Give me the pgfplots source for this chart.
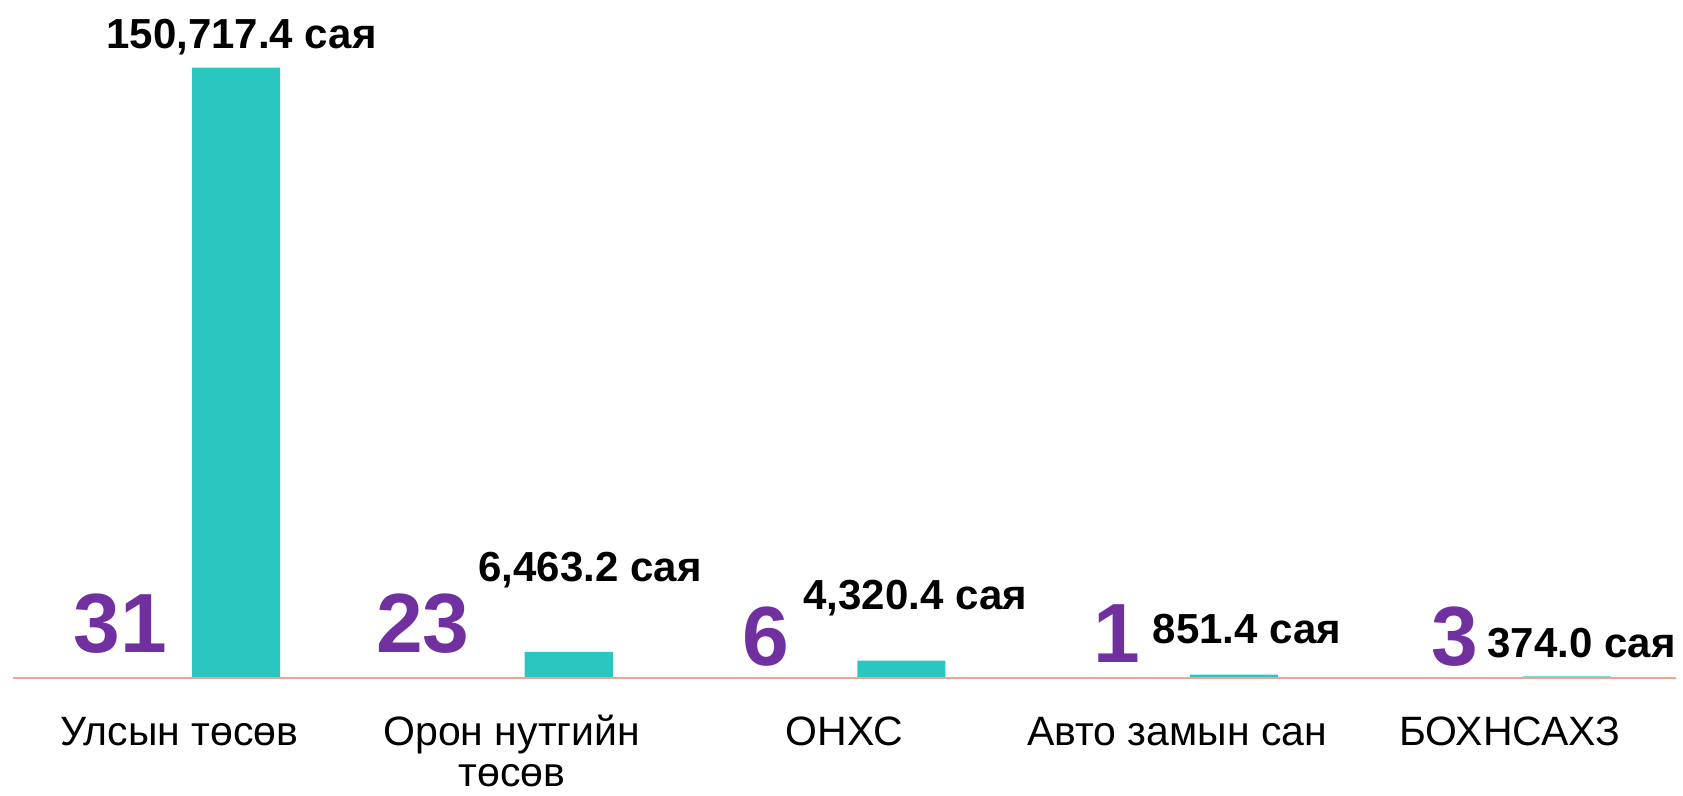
\documentclass[border=0pt]{standalone}
\usepackage{fontspec}
\setmainfont{Liberation Sans}
\usepackage{pgfplots}
\pgfplotsset{compat=1.18}
\definecolor{barteal}{HTML}{29C7BF}
\definecolor{cntpurple}{HTML}{7030A0}
\definecolor{baseln}{HTML}{F2A291}
% two centred lines, baseline on the first one
\newcommand{\twoline}[2]{\vtop{\halign{\hfil##\hfil\cr #1\cr #2\cr}}}

\begin{document}
\begin{tikzpicture}
\begin{axis}[
    scale only axis,
    width=841.5pt, height=339pt,
    xmin=-0.539, xmax=4.521,
    ymin=0, ymax=167410,
    axis line style={draw=none},
    tick style={draw=none},
    ytick=\empty,
    xtick={0,1,2,3,4},
    xticklabels={Улсын төсөв, {\twoline{Орон нутгийн}{төсөв}}, ОНХС, Авто замын сан, БОХНСАХЗ},
    xticklabel style={font=\fontsize{20.5}{21}\selectfont, anchor=base, inner sep=0pt, yshift=-33.5pt},
    clip=false,
]
    % amounts (million)
    \addplot[ybar, bar width=0.265, bar shift=0.171, fill=barteal, draw=none] coordinates {
        (0,150717.4) (1,6463.2) (2,4320.4) (3,851.4) (4,374.0)
    };
    \addplot[baseln, line width=1.1pt] coordinates {(-0.5,0) (4.5,0)};

    % amount labels
    \addplot[draw=none, mark=none, nodes near coords, point meta=explicit symbolic,
        every node near coord/.append style={anchor=base, inner sep=0pt,
            font=\bfseries\fontsize{21}{21}\selectfont}] coordinates {
        (0.187,155500) [{150,717.4 сая}]
        (1.235,23841) [{6,463.2 сая}]
        (2.213,16954) [{4,320.4 сая}]
        (3.210,8477) [{851.4 сая}]
        (4.216,5033) [{374.0 сая}]
    };

    % project counts
    \addplot[draw=none, mark=none, nodes near coords, point meta=explicit symbolic,
        every node near coord/.append style={anchor=base, inner sep=0pt, text=cntpurple,
            font=\bfseries\fontsize{42}{42}\selectfont}] coordinates {
        (-0.177,6358) [31]
        (0.732,6358) [23]
        (1.765,3179) [6]
        (2.820,3709) [1]
        (3.835,3179) [3]
    };
\end{axis}
\pgfresetboundingbox
\path[use as bounding box] ([yshift=-59pt]current axis.south west) rectangle (current axis.north east);
\end{tikzpicture}
\end{document}
